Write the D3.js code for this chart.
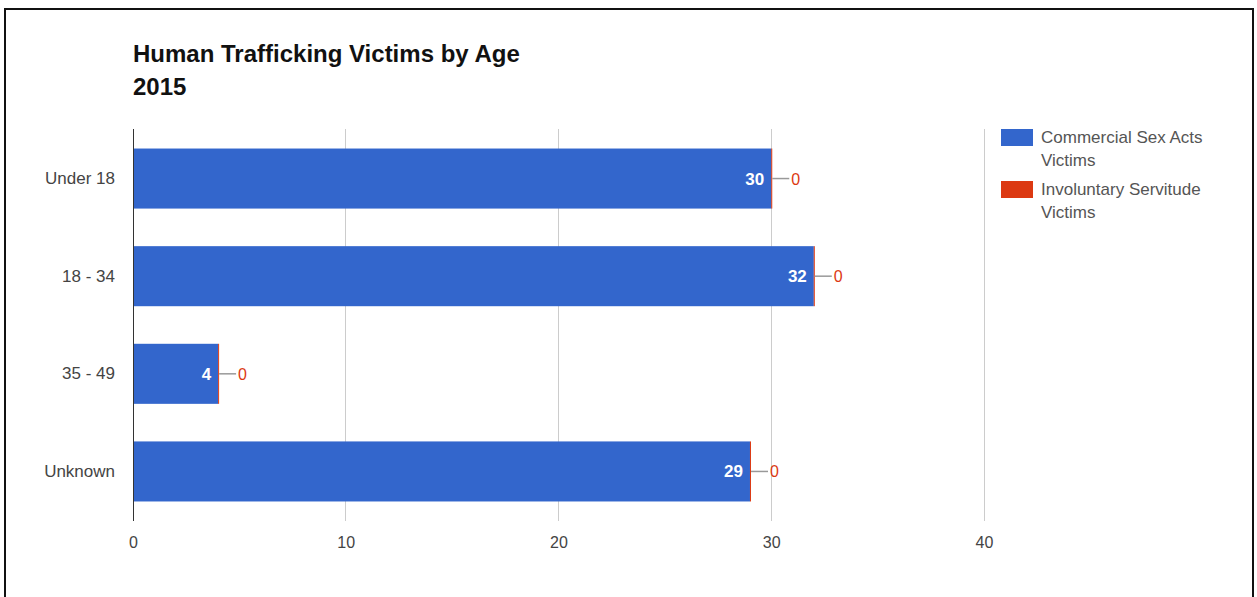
<!DOCTYPE html>
<html><head><meta charset="utf-8">
<script src="https://cdn.jsdelivr.net/npm/d3@7"></script>
<style>body{margin:0;background:#fff;font-family:"Liberation Sans",Arial,sans-serif}</style>
</head><body>
<svg id="c" width="1257" height="597"></svg>
<script>
const categories = ["Under 18", "18 - 34", "35 - 49", "Unknown"];
const commercialSex = [30, 32, 4, 29];
const involuntary = [0, 0, 0, 0];
const seriesNames = [["Commercial Sex Acts", "Victims"], ["Involuntary Servitude", "Victims"]];
const colors = ["#3366cc", "#dc3912"];
const xTicks = [0, 10, 20, 30, 40];

const svg = d3.select("#c");
// frame
svg.append("rect").attr("x", 5).attr("y", 9).attr("width", 1248).attr("height", 600)
  .attr("fill", "#fff").attr("stroke", "#111").attr("stroke-width", 2);

const pL = 133, pR = 984, pT = 129, pB = 521;
const x = d3.scaleLinear().domain([0, 40]).range([pL, pR]);
const y = d3.scaleBand().domain(categories).range([pT, pB]).paddingInner(0.385).paddingOuter(0.2);

// title
svg.append("text").attr("x", 133).attr("y", 62).text("Human Trafficking Victims by Age")
  .attr("font-size", 24).attr("font-weight", "bold").attr("fill", "#111");
svg.append("text").attr("x", 133).attr("y", 95).text("2015")
  .attr("font-size", 24).attr("font-weight", "bold").attr("fill", "#111");

// gridlines
svg.append("g").selectAll("line").data(xTicks.filter(d => d > 0)).join("line")
  .attr("x1", d => x(d)).attr("x2", d => x(d)).attr("y1", pT).attr("y2", pB)
  .attr("stroke", "#cccccc").attr("stroke-width", 1).attr("shape-rendering", "crispEdges");

// x tick labels
const xAxis = d3.axisBottom(x).tickValues(xTicks).tickSize(0).tickPadding(0);
const gx = svg.append("g").attr("transform", `translate(0,${pB + 16})`).call(xAxis);
gx.select(".domain").remove();
gx.selectAll("text").attr("font-size", 16).attr("fill", "#444").attr("font-family", "Liberation Sans, Arial, sans-serif");

// y labels
const yAxis = d3.axisLeft(y).tickSize(0).tickPadding(18);
const gy = svg.append("g").attr("transform", `translate(${pL},0)`).call(yAxis);
gy.select(".domain").remove();
gy.selectAll("text").attr("font-size", 17).attr("fill", "#444").attr("font-family", "Liberation Sans, Arial, sans-serif");

// bars
const rows = categories.map((c, i) => ({c, a: commercialSex[i], b: involuntary[i]}));
svg.append("g").selectAll("rect").data(rows).join("rect")
  .attr("x", x(0)).attr("y", d => y(d.c)).attr("width", d => x(d.a) - x(0)).attr("height", y.bandwidth())
  .attr("fill", colors[0]);
svg.append("g").selectAll("rect").data(rows).join("rect")
  .attr("x", d => x(d.a)).attr("y", d => y(d.c)).attr("width", d => Math.max(1, x(d.a + d.b) - x(d.a))).attr("height", y.bandwidth())
  .attr("fill", colors[1]);

// value labels
svg.append("g").selectAll("text").data(rows).join("text")
  .attr("x", d => x(d.a) - 7).attr("y", d => y(d.c) + y.bandwidth() / 2 + 6)
  .attr("text-anchor", "end").attr("font-size", 17).attr("font-weight", "bold").attr("fill", "#fff")
  .text(d => d.a);
svg.append("g").selectAll("line").data(rows).join("line")
  .attr("x1", d => x(d.a + d.b) + 1).attr("x2", d => x(d.a + d.b) + 18)
  .attr("y1", d => y(d.c) + y.bandwidth() / 2).attr("y2", d => y(d.c) + y.bandwidth() / 2)
  .attr("stroke", "#999").attr("stroke-width", 1.5);
svg.append("g").selectAll("text").data(rows).join("text")
  .attr("x", d => x(d.a + d.b) + 20).attr("y", d => y(d.c) + y.bandwidth() / 2 + 6)
  .attr("font-size", 16).attr("fill", colors[1]).text(d => d.b);

// zero axis line
svg.append("line").attr("x1", x(0)).attr("x2", x(0)).attr("y1", pT).attr("y2", pB)
  .attr("stroke", "#333").attr("stroke-width", 1).attr("shape-rendering", "crispEdges");

// legend
const lg = svg.append("g");
seriesNames.forEach((lines, i) => {
  const yy = 129 + i * 52;
  lg.append("rect").attr("x", 1001).attr("y", yy).attr("width", 32).attr("height", 17).attr("fill", colors[i]);
  lines.forEach((t, j) => {
    lg.append("text").attr("x", 1041).attr("y", yy + 14 + j * 23).attr("font-size", 17)
      .attr("fill", "#555").text(t);
  });
});
</script>
</body></html>
